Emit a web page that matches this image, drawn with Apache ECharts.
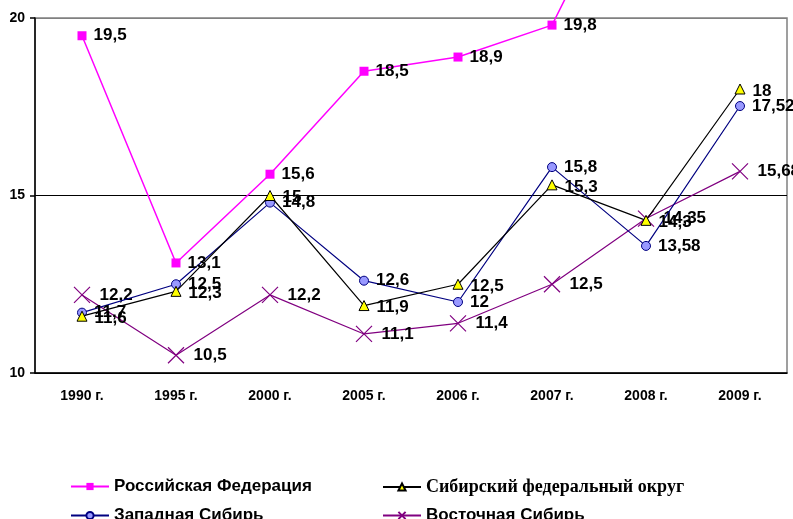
<!DOCTYPE html>
<html>
<head>
<meta charset="utf-8">
<script src="https://cdn.jsdelivr.net/npm/echarts@6/dist/echarts.min.js"></script>
<style>
  html, body { margin: 0; padding: 0; background: #fff; }
  #chart { width: 793px; height: 519px; }
</style>
</head>
<body>
<div id="chart"></div>
<script>
var years = ['1990 г.', '1995 г.', '2000 г.', '2005 г.', '2006 г.', '2007 г.', '2008 г.', '2009 г.'];
// 2008 and 2009 values for RF go off the top of the chart, estimated from the line slope
var rusFed = [19.5, 13.1, 15.6, 18.5, 18.9, 19.8, 25.1, 26.3];
var sibFO = [11.6, 12.3, 15, 11.9, 12.5, 15.3, 14.3, 18];
var westSib = [11.7, 12.5, 14.8, 12.6, 12, 15.8, 13.58, 17.52];
var eastSib = [12.2, 10.5, 12.2, 11.1, 11.4, 12.5, 14.35, 15.68];
var yTicks = [10, 15, 20];

var labelFont = 'Liberation Sans, Arial, sans-serif';
var serifFont = 'Liberation Serif, Times New Roman, serif';

function commaLabel(p) {
    return String(p.value).replace('.', ',');
}

function makeLabel(dy) {
    return {
        show: true,
        position: 'right',
        distance: 7,
        offset: [0, dy || 0],
        color: '#000',
        fontFamily: labelFont,
        fontWeight: 'bold',
        fontSize: 17,
        formatter: commaLabel
    };
}

function legendItem(name, left, top, font, size) {
    return {
        left: left,
        top: top,
        padding: 0,
        itemWidth: 38,
        itemHeight: 9,
        itemGap: 6,
        textStyle: { fontFamily: font || labelFont, fontWeight: 'bold', fontSize: size || 17, color: '#000' },
        data: [name]
    };
}

var chart = echarts.init(document.getElementById('chart'));

chart.setOption({
    animation: false,
    backgroundColor: '#fff',
    grid: {
        left: 35,
        right: 6,
        top: 18,
        bottom: 146,
        show: true,
        borderColor: '#808080',
        borderWidth: 1.5
    },
    legend: [
        legendItem('Российская Федерация', 70, 478),
        legendItem('Западная Сибирь', 70, 507),
        legendItem('Сибирский федеральный округ', 382, 478, serifFont, 18),
        legendItem('Восточная Сибирь', 382, 507)
    ],
    xAxis: {
        type: 'category',
        data: years,
        boundaryGap: true,
        axisLine: { lineStyle: { color: '#000', width: 1.5 } },
        axisTick: { length: 5, lineStyle: { color: '#000', width: 1.5 } },
        axisLabel: {
            margin: 16,
            color: '#000',
            fontFamily: labelFont,
            fontWeight: 'bold',
            fontSize: 14
        }
    },
    yAxis: {
        type: 'value',
        min: yTicks[0],
        max: yTicks[yTicks.length - 1],
        interval: yTicks[1] - yTicks[0],
        axisLine: { show: true, lineStyle: { color: '#000', width: 1.5 } },
        axisTick: { show: true, length: 5, lineStyle: { color: '#000', width: 1.5 } },
        axisLabel: {
            margin: 10,
            color: '#000',
            fontFamily: labelFont,
            fontWeight: 'bold',
            fontSize: 14
        },
        splitLine: { show: true, lineStyle: { color: ['#000', '#000', '#808080'], width: 1.2 } }
    },
    series: [{
        name: 'Российская Федерация',
        type: 'line',
        data: rusFed,
        clip: false,
        symbol: 'rect',
        symbolSize: 9,
        itemStyle: { color: '#FF00FF' },
        lineStyle: { color: '#FF00FF', width: 1.5 },
        label: makeLabel(0),
        z: 5
    }, {
        name: 'Сибирский федеральный округ',
        type: 'line',
        data: sibFO,
        symbol: 'triangle',
        symbolSize: 10,
        itemStyle: { color: '#FFFF00', borderColor: '#000', borderWidth: 1 },
        lineStyle: { color: '#000', width: 1.2 },
        label: makeLabel(2),
        z: 4
    }, {
        name: 'Западная Сибирь',
        type: 'line',
        data: westSib,
        symbol: 'circle',
        symbolSize: 9,
        itemStyle: { color: '#9999FF', borderColor: '#000080', borderWidth: 1 },
        lineStyle: { color: '#000080', width: 1.2 },
        label: makeLabel(0),
        z: 3
    }, {
        name: 'Восточная Сибирь',
        type: 'line',
        data: eastSib,
        symbol: 'path://M0,0L10,10M10,0L0,10',
        symbolSize: 16,
        itemStyle: { color: 'none', borderColor: '#800080', borderWidth: 1.2 },
        lineStyle: { color: '#800080', width: 1.2 },
        label: makeLabel(0),
        z: 2
    }]
});
</script>
</body>
</html>
